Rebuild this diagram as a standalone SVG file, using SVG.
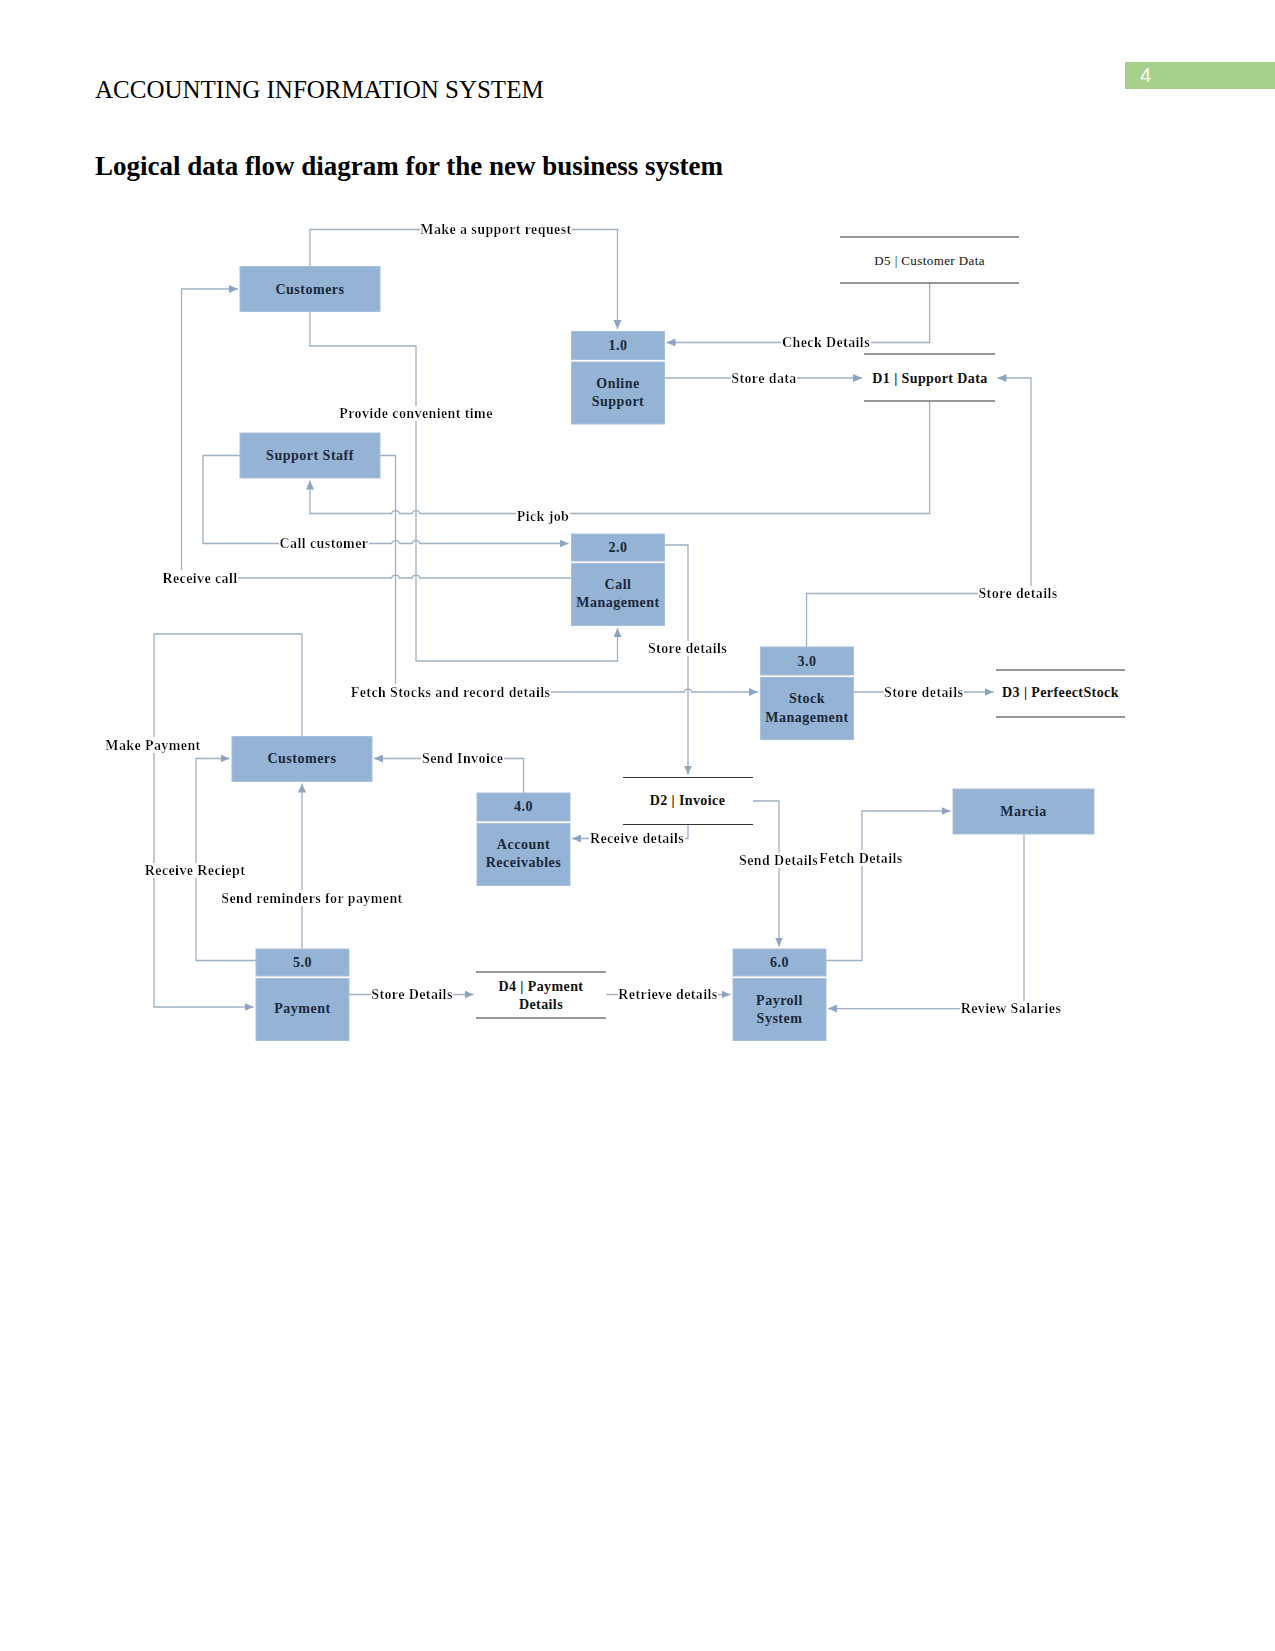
<svg xmlns="http://www.w3.org/2000/svg" width="1275" height="1651" viewBox="0 0 1275 1651">
<style>
.hdr{font-family:"Liberation Serif","Times New Roman",serif;fill:#000}
.ent{fill:#95b4d5;stroke:#a7c0dc;stroke-width:1}
.bt{font-family:"Liberation Serif","Times New Roman",serif;font-weight:bold;font-size:14px;letter-spacing:0.5px;fill:#1b283a;text-anchor:middle}
.ds{stroke:#333;stroke-width:1.2}
.dt{font-family:"Liberation Serif","Times New Roman",serif;font-weight:bold;font-size:14px;letter-spacing:0.4px;fill:#111;text-anchor:middle}
.ln{fill:none;stroke:#a0b1c3;stroke-width:1.3;marker-end:url(#ah)}
.lbl{font-family:"Liberation Serif","Times New Roman",serif;font-weight:bold;font-size:14px;letter-spacing:0.4px;fill:#000;text-anchor:middle;filter:url(#bg)}
</style>
<defs>
<marker id="ah" viewBox="0 0 10 10" refX="10" refY="5" markerWidth="9" markerHeight="8" markerUnits="userSpaceOnUse" orient="auto" preserveAspectRatio="none"><path d="M0,0 L10,5 L0,10 z" fill="#8ea5bf"/></marker>
<filter id="bg" x="0" y="0" width="1" height="1"><feFlood flood-color="#ffffff"/><feComposite in="SourceGraphic" operator="over"/></filter>
</defs>
<rect width="1275" height="1651" fill="#ffffff"/>
<g id="page-header">
<rect x="1125" y="62" width="150" height="27" fill="#a6d08b"/>
<text x="1140" y="82" font-family="Liberation Sans, Arial, sans-serif" font-size="20" fill="#ffffff">4</text>
<text class="hdr" x="95" y="98" font-size="25">ACCOUNTING INFORMATION SYSTEM</text>
<text class="hdr" x="95" y="175" font-size="27" font-weight="bold">Logical data flow diagram for the new business system</text>
</g>
<g id="connectors">
<path class="ln" d="M310,266 V229.5 H617.5 V329"/>
<path class="ln" d="M571,578 H420 A4.2,4.2 0 0 0 412,578 H399.5 A4.2,4.2 0 0 0 391.5,578 H181.5 V289 H238"/>
<path class="ln" d="M310,312 V346 H416 V661 H617.5 V628"/>
<path class="ln" d="M929.6,283 V342.5 H666.5"/>
<path class="ln" d="M664,378 H862"/>
<path class="ln" d="M929.6,401 V513.5 H420 A4.2,4.2 0 0 0 412,513.5 H399.5 A4.2,4.2 0 0 0 391.5,513.5 H310 V480.5"/>
<path class="ln" d="M240,455.5 H203 V543.5 H391.5 A4.2,4.2 0 0 1 399.5,543.5 H412 A4.2,4.2 0 0 1 420,543.5 H568.5"/>
<path class="ln" d="M380,455.5 H395.5 V692 H684 A4.2,4.2 0 0 1 692,692 H758"/>
<path class="ln" d="M664,545 H688 V774.5"/>
<path class="ln" d="M806.5,647 V593.5 H1031 V378 H997.5"/>
<path class="ln" d="M853,692 H993.5"/>
<path class="ln" d="M523.5,793 V758.5 H374"/>
<path class="ln" d="M688,824.5 V838.5 H572"/>
<path class="ln" d="M753,801 H779 V946.5"/>
<path class="ln" d="M825.5,960.5 H862 V811 H950.5"/>
<path class="ln" d="M1024,834 V1008.6 H828"/>
<path class="ln" d="M302,736 V634 H154 V1007 H253.5"/>
<path class="ln" d="M256,960.5 H196 V758.5 H229.5"/>
<path class="ln" d="M302,948.6 V783.5"/>
<path class="ln" d="M348.5,994.5 H473.5"/>
<path class="ln" d="M606.4,994.5 H730.5"/>
<text class="lbl" x="496" y="234">Make a support request</text>
<text class="lbl" x="200" y="582.5">Receive call</text>
<text class="lbl" x="416" y="418">Provide convenient time</text>
<text class="lbl" x="826" y="347">Check Details</text>
<text class="lbl" x="764" y="382.5">Store data</text>
<text class="lbl" x="543" y="521">Pick job</text>
<text class="lbl" x="324" y="548">Call customer</text>
<text class="lbl" x="450.6" y="696.5">Fetch Stocks and record details</text>
<text class="lbl" x="687.5" y="653">Store details</text>
<text class="lbl" x="1018" y="598">Store details</text>
<text class="lbl" x="923.7" y="696.5">Store details</text>
<text class="lbl" x="462.7" y="763">Send Invoice</text>
<text class="lbl" x="637" y="843">Receive details</text>
<text class="lbl" x="778.6" y="865">Send Details</text>
<text class="lbl" x="861" y="862.5">Fetch Details</text>
<text class="lbl" x="1011" y="1013">Review Salaries</text>
<text class="lbl" x="153" y="749.5">Make Payment</text>
<text class="lbl" x="195" y="875">Receive Reciept</text>
<text class="lbl" x="312" y="902.5">Send reminders for payment</text>
<text class="lbl" x="412" y="999">Store Details</text>
<text class="lbl" x="668" y="999">Retrieve details</text>
</g>
<g id="customers-top">
<rect class="ent" x="240" y="266.5" width="140" height="45"/>
<text class="bt" x="310" y="294">Customers</text>
</g>
<g id="support-staff">
<rect class="ent" x="240" y="433" width="140" height="45"/>
<text class="bt" x="310" y="460">Support Staff</text>
</g>
<g id="customers-mid">
<rect class="ent" x="232" y="736.5" width="140" height="45"/>
<text class="bt" x="302" y="763">Customers</text>
</g>
<g id="marcia">
<rect class="ent" x="953" y="789" width="141" height="45"/>
<text class="bt" x="1023.5" y="816">Marcia</text>
</g>
<g id="p1">
<rect class="ent" x="571.5" y="331.5" width="93" height="28"/>
<rect class="ent" x="571.5" y="362" width="93" height="62"/>
<text class="bt" x="618" y="350">1.0</text>
<text class="bt" x="618" y="388">Online</text>
<text class="bt" x="618" y="406">Support</text>
</g>
<g id="p2">
<rect class="ent" x="571.5" y="534" width="93" height="27"/>
<rect class="ent" x="571.5" y="563.5" width="93" height="62"/>
<text class="bt" x="618" y="552">2.0</text>
<text class="bt" x="618" y="589">Call</text>
<text class="bt" x="618" y="607">Management</text>
</g>
<g id="p3">
<rect class="ent" x="760.5" y="647" width="93" height="28"/>
<rect class="ent" x="760.5" y="677.5" width="93" height="62"/>
<text class="bt" x="807" y="666">3.0</text>
<text class="bt" x="807" y="703">Stock</text>
<text class="bt" x="807" y="722">Management</text>
</g>
<g id="p4">
<rect class="ent" x="477" y="793" width="93" height="28"/>
<rect class="ent" x="477" y="823.5" width="93" height="62"/>
<text class="bt" x="523.5" y="811">4.0</text>
<text class="bt" x="523.5" y="849">Account</text>
<text class="bt" x="523.5" y="867">Receivables</text>
</g>
<g id="p5">
<rect class="ent" x="256" y="949" width="93" height="27"/>
<rect class="ent" x="256" y="978.5" width="93" height="62"/>
<text class="bt" x="302.5" y="967">5.0</text>
<text class="bt" x="302.5" y="1013">Payment</text>
</g>
<g id="p6">
<rect class="ent" x="733" y="949" width="93" height="27"/>
<rect class="ent" x="733" y="978.5" width="93" height="62"/>
<text class="bt" x="779.5" y="967">6.0</text>
<text class="bt" x="779.5" y="1005">Payroll</text>
<text class="bt" x="779.5" y="1023">System</text>
</g>
<g id="d5">
<line class="ds" x1="840" y1="237" x2="1019" y2="237"/>
<line class="ds" x1="840" y1="283" x2="1019" y2="283"/>
<text class="dt" x="929.6" y="264.5" style="font-weight:normal;font-size:13px">D5 | Customer Data</text>
</g>
<g id="d1">
<line class="ds" x1="864" y1="354" x2="995" y2="354"/>
<line class="ds" x1="864" y1="401" x2="995" y2="401"/>
<text class="dt" x="930" y="382.5">D1 | Support Data</text>
</g>
<g id="d3">
<line class="ds" x1="996" y1="670" x2="1125" y2="670"/>
<line class="ds" x1="996" y1="717" x2="1125" y2="717"/>
<text class="dt" x="1060.5" y="696.5">D3 | PerfeectStock</text>
</g>
<g id="d2">
<line class="ds" x1="623" y1="777.5" x2="753" y2="777.5"/>
<line class="ds" x1="623" y1="824.5" x2="753" y2="824.5"/>
<text class="dt" x="687.5" y="804.5">D2 | Invoice</text>
</g>
<g id="d4">
<line class="ds" x1="476" y1="972" x2="606" y2="972"/>
<line class="ds" x1="476" y1="1018" x2="606" y2="1018"/>
<text class="dt" x="541" y="990.5">D4 | Payment</text>
<text class="dt" x="541" y="1008.5">Details</text>
</g>
</svg>
